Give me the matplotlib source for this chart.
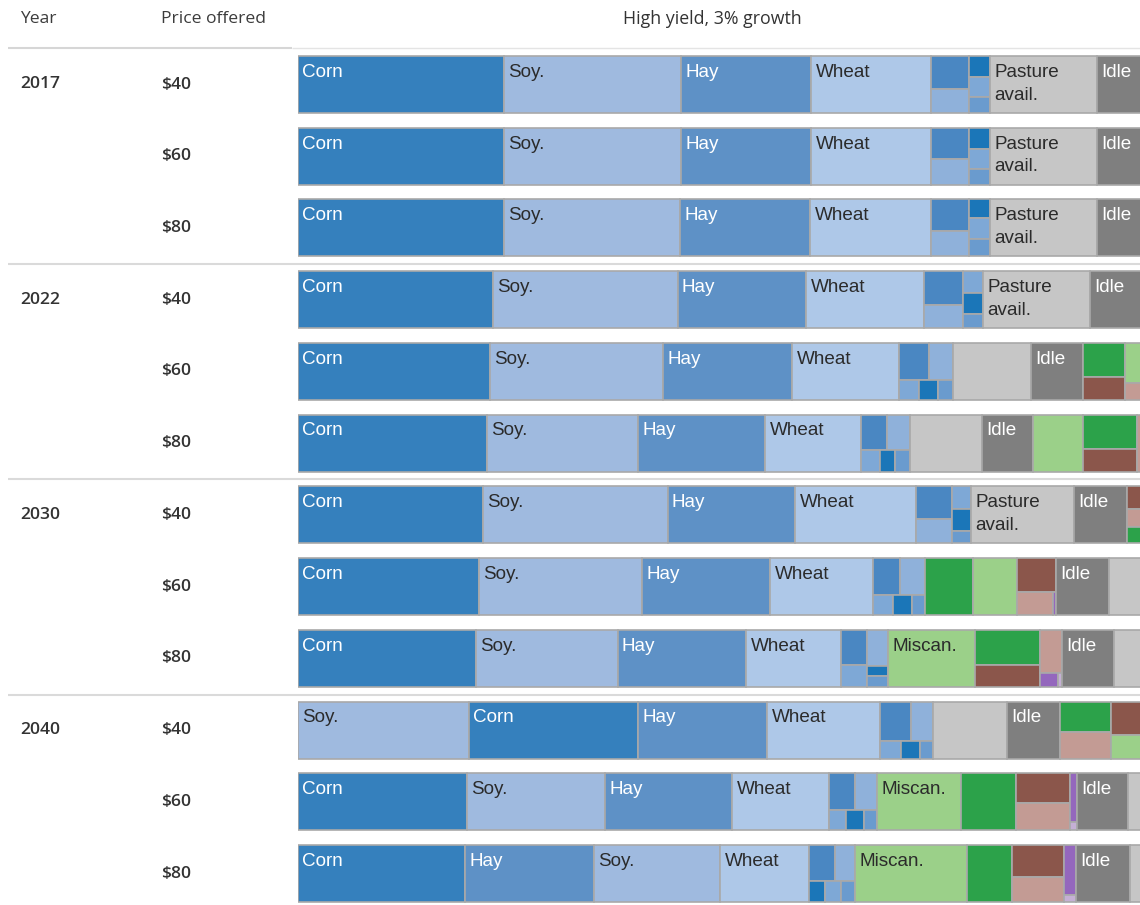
import matplotlib
matplotlib.use("Agg")
import matplotlib.pyplot as plt
from matplotlib.patches import Rectangle

# ---------------- data ----------------
YEARS = ["2017", "2022", "2030", "2040"]
PRICES = ["$40", "$60", "$80"]
TITLE = "High yield, 3% growth"

# leaf: (category, area) or (category, area, show_label)
# container: ("V", [children]) stacked vertically, ("H", [children]) side by side
r2017_40 = [("corn", 206), ("soy", 177), ("hay", 130), ("wheat", 120),
            ("V", [("sorg", 22), ("oats", 16)]),
            ("V", [("barley", 7.7), ("rye", 7.4), ("other", 5.9)]),
            ("pasture", 107, True), ("idle", 60)]
r2017_60 = [("corn", 206), ("soy", 177), ("hay", 130), ("wheat", 120),
            ("V", [("sorg", 20.7), ("oats", 17.3)]),
            ("V", [("barley", 7.7), ("rye", 7.4), ("other", 5.9)]),
            ("pasture", 107, True), ("idle", 60)]
r2017_80 = [("corn", 206), ("soy", 176), ("hay", 130), ("wheat", 121),
            ("V", [("sorg", 21.3), ("oats", 16.7)]),
            ("V", [("barley", 7.0), ("rye", 7.7), ("other", 6.3)]),
            ("pasture", 107, True), ("idle", 60)]
r2022_40 = [("corn", 195), ("soy", 184.5), ("hay", 128.5), ("wheat", 118),
            ("V", [("sorg", 23.3), ("oats", 15.7)]),
            ("V", [("rye", 7.7), ("barley", 7.4), ("other", 4.9)]),
            ("pasture", 107, True), ("idle", 60)]
r2022_60 = [("corn", 192), ("soy", 173), ("hay", 129), ("wheat", 107),
            ("V", [("H", [("sorg", 19.5), ("oats", 15.6)]),
                   ("H", [("rye", 7.0), ("barley", 6.7), ("other", 5.3)])]),
            ("pasture", 78), ("idle", 52),
            ("V", [("switch", 25), ("poplar", 17)]),
            ("V", [("miscan", 28), ("willow", 12)])]
r2022_80 = [("corn", 189), ("soy", 151), ("hay", 127), ("wheat", 96),
            ("V", [("H", [("sorg", 16.0), ("oats", 14.1)]),
                   ("H", [("rye", 7.3), ("barley", 5.8), ("other", 5.8)])]),
            ("pasture", 72), ("idle", 51), ("miscan", 50),
            ("V", [("switch", 33), ("poplar", 21)]),
            ("willow", 8)]
r2030_40 = [("corn", 185), ("soy", 184.5), ("hay", 127.5), ("wheat", 121),
            ("V", [("sorg", 20.8), ("oats", 15.2)]),
            ("V", [("rye", 7.7), ("barley", 7.3), ("other", 4.0)]),
            ("pasture", 103, True), ("idle", 53),
            ("V", [("poplar", 7.9), ("willow", 6.3), ("switch", 5.6)])]
r2030_60 = [("corn", 181), ("soy", 163), ("hay", 128), ("wheat", 103),
            ("V", [("H", [("sorg", 17.5), ("oats", 16.2)]),
                   ("H", [("rye", 6.9), ("barley", 6.7), ("other", 4.7)])]),
            ("switch", 48), ("miscan", 44),
            ("V", [("poplar", 22.9), ("H", [("willow", 14.7), ("cane", 1.4)])]),
            ("idle", 53), ("pasture", 40)]
r2030_80 = [("corn", 178), ("soy", 141.5), ("hay", 128.5), ("wheat", 95),
            ("H", [("V", [("sorg", 16.0), ("rye", 10.0)]),
                   ("V", [("oats", 13.3), ("barley", 3.7), ("other", 4.0)])]),
            ("miscan", 87, True),
            ("V", [("switch", 40), ("poplar", 25)]),
            ("V", [("willow", 16.6), ("H", [("cane", 4.4), ("cane2", 1.0)])]),
            ("idle", 52), ("pasture", 40)]
r2040_40 = [("soy", 170.6), ("corn", 169.4), ("hay", 129), ("wheat", 113),
            ("V", [("H", [("sorg", 21.2), ("oats", 15.1)]),
                   ("H", [("rye", 6.6), ("barley", 6.0), ("other", 4.1)])]),
            ("pasture", 74), ("idle", 53),
            ("V", [("switch", 26.8), ("willow", 24.2)]),
            ("V", [("poplar", 20.3), ("miscan", 14.7)])]
r2040_60 = [("corn", 169), ("soy", 138), ("hay", 127), ("wheat", 97),
            ("V", [("H", [("sorg", 16.9), ("oats", 14.3)]),
                   ("H", [("rye", 6.1), ("barley", 6.0), ("other", 4.7)])]),
            ("miscan", 84, True), ("switch", 55),
            ("V", [("poplar", 28.4), ("willow", 25.6)]),
            ("V", [("cane", 6.0), ("cane2", 1.0)]),
            ("idle", 51), ("pasture", 40)]
r2040_80 = [("corn", 167), ("hay", 129), ("soy", 126), ("wheat", 89),
            ("V", [("H", [("sorg", 16.4), ("oats", 12.6)]),
                   ("H", [("barley", 5.9), ("rye", 5.9), ("other", 5.15)])]),
            ("miscan", 112, True), ("switch", 45),
            ("V", [("poplar", 29.2), ("willow", 22.8)]),
            ("V", [("cane", 10.5), ("cane2", 1.5)]),
            ("idle", 54), ("pasture", 40)]

ROWS = [r2017_40, r2017_60, r2017_80,
        r2022_40, r2022_60, r2022_80,
        r2030_40, r2030_60, r2030_80,
        r2040_40, r2040_60, r2040_80]

COLORS = {
    "corn": "#3580bd", "soy": "#9fbadf", "hay": "#5e91c6", "wheat": "#aec8e8",
    "sorg": "#4a87c2", "oats": "#8fb1da", "barley": "#1b76b8", "rye": "#7ea8d6",
    "other": "#6a9bce", "pasture": "#c6c6c6", "idle": "#7f7f7f",
    "switch": "#2ca24a", "miscan": "#9bd089", "poplar": "#8b564b",
    "willow": "#c39b94", "cane": "#9467bd", "cane2": "#c5b0d5",
}
LABELS = {"corn": "Corn", "soy": "Soy.", "hay": "Hay", "wheat": "Wheat",
          "idle": "Idle", "pasture": "Pasture\navail.", "miscan": "Miscan."}
ALWAYS_LABEL = {"corn", "soy", "hay", "wheat", "idle"}
WHITE_TEXT = {"corn", "hay", "idle"}

# ---------------- layout constants ----------------
W, H = 1140, 905
STRIP_X0 = 298
ROW_TOP0 = 56
ROW_PITCH = 71.73
STRIP_H = 57 / ROW_PITCH
EDGE = "#a9a9a9"

fig = plt.figure(figsize=(W / 100, H / 100), dpi=100)
fig.patch.set_facecolor("white")

bg = fig.add_axes([0, 0, 1, 1])
bg.set_xlim(0, W)
bg.set_ylim(H, 0)
bg.axis("off")

ax = fig.add_axes([STRIP_X0 / W, 0, (W - STRIP_X0) / W, 1])
ax.set_xlim(0, W - STRIP_X0)
ax.set_ylim((H - ROW_TOP0) / ROW_PITCH, -ROW_TOP0 / ROW_PITCH)
ax.axis("off")


def total(node):
    if node[0] in ("V", "H") and isinstance(node[1], list):
        return sum(total(c) for c in node[1])
    return node[1]


def draw(node, x, y, w, h):
    if node[0] in ("V", "H") and isinstance(node[1], list):
        kids = node[1]
        s = sum(total(k) for k in kids)
        if node[0] == "V":
            yy = y
            for k in kids:
                hh = h * total(k) / s
                draw(k, x, yy, w, hh)
                yy += hh
        else:
            xx = x
            for k in kids:
                ww = w * total(k) / s
                draw(k, xx, y, ww, h)
                xx += ww
        return
    key = node[0]
    ax.add_patch(Rectangle((x, y), w, h, facecolor=COLORS[key],
                           edgecolor=EDGE, linewidth=1.2))
    show = key in ALWAYS_LABEL or (len(node) > 2 and node[2])
    if show:
        ax.annotate(LABELS[key], xy=(x, y), xytext=(3.2, -5.6),
                    textcoords="offset points", ha="left", va="top",
                    fontsize=13.6, family="Liberation Sans", linespacing=1.45,
                    color="white" if key in WHITE_TEXT else "#2b2b2b",
                    annotation_clip=False, clip_on=True)


for i, row in enumerate(ROWS):
    x = 0
    for node in row:
        wdt = total(node)
        draw(node, x, i, wdt, STRIP_H)
        x += wdt

# ---------------- headers, labels, separators ----------------
HFONT = "Open Sans"
bg.text(20, 19, "Year", ha="left", va="center", fontsize=12.6, family=HFONT,
        weight="medium", color="#3c3c3c")
bg.text(161, 19, "Price offered", ha="left", va="center", fontsize=12.6, family=HFONT,
        weight="medium", color="#3c3c3c")
bg.text(712, 19, TITLE, ha="center", va="center", fontsize=12.8, family=HFONT,
        weight="medium", color="#333333")

bg.hlines(48.5, 8, 292, color="#d6d6d6", linewidth=1.5)
bg.hlines(48.5, 292, W, color="#e4e4e4", linewidth=1.0)

for gi, yr in enumerate(YEARS):
    for pi, pr in enumerate(PRICES):
        ri = gi * len(PRICES) + pi
        yc = ROW_TOP0 + ri * ROW_PITCH + 28.5
        if pi == 0:
            bg.text(20, yc, yr, ha="left", va="center", fontsize=12.6,
                    family=HFONT, weight="semibold", color="#333333")
        bg.text(161, yc, pr, ha="left", va="center", fontsize=12.6,
                family=HFONT, weight="semibold", color="#333333")
    if gi > 0:
        ysep = ROW_TOP0 + gi * len(PRICES) * ROW_PITCH - 7
        bg.hlines(ysep, 8, W, color="#dadada", linewidth=1.5)

fig.savefig("out.png", dpi=100, facecolor="white")
